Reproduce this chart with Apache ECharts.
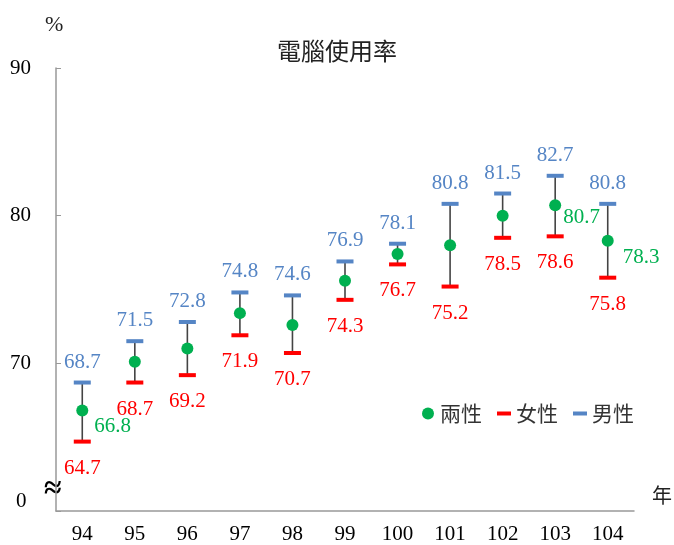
<!DOCTYPE html>
<html>
<head>
<meta charset="utf-8">
<script src="https://cdn.jsdelivr.net/npm/echarts@6/dist/echarts.min.js"></script>
<style>
  html, body { margin: 0; padding: 0; background: #fff; }
  #main { width: 674px; height: 545px; }
</style>
</head>
<body>
<div id="main"></div>
<script>
// 年度
var years = ['94', '95', '96', '97', '98', '99', '100', '101', '102', '103', '104'];
// 兩性
var both = [66.8, 70.1, 71.0, 73.4, 72.6, 75.6, 77.4, 78.0, 80.0, 80.7, 78.3];
// 女性
var female = [64.7, 68.7, 69.2, 71.9, 70.7, 74.3, 76.7, 75.2, 78.5, 78.6, 75.8];
// 男性
var male = [68.7, 71.5, 72.8, 74.8, 74.6, 76.9, 78.1, 80.8, 81.5, 82.7, 80.8];

var serif = '"Liberation Serif", "DejaVu Serif", serif';
var cjk = '"Noto Sans CJK TC", "Noto Sans CJK SC", sans-serif';
var blue = '#5585C5';
var red = '#FF0000';
var green = '#00B050';
var dash = 'path://M0,0 L14,0 L14,4 L0,4 Z';

// 只有部分兩性數值有標籤
var bothLabelOffsets = { 0: [6, 16], 9: [2, 12], 10: [9, 17] };

var myChart = echarts.init(document.getElementById('main'));

myChart.setOption({
    animation: false,
    title: {
        text: '電腦使用率',
        left: 'center',
        top: 34,
        textStyle: { fontFamily: cjk, fontSize: 24, fontWeight: 'normal', color: '#222' }
    },
    legend: {
        left: 417,
        top: 398,
        itemGap: 15,
        itemWidth: 14,
        itemHeight: 12,
        textStyle: { fontFamily: cjk, fontSize: 21, color: '#333' },
        data: [
            { name: '兩性', icon: 'circle' },
            { name: '女性', icon: dash, itemStyle: { color: red } },
            { name: '男性', icon: dash, itemStyle: { color: blue } }
        ]
    },
    grid: { left: 56, right: 40, top: 68, bottom: 33 },
    xAxis: {
        type: 'category',
        data: years,
        boundaryGap: true,
        axisLine: { lineStyle: { color: '#999', width: 1.5 } },
        axisTick: { inside: true, length: 6, lineStyle: { color: '#999' } },
        axisLabel: { fontFamily: serif, fontSize: 21, color: '#000', margin: 13 }
    },
    yAxis: {
        type: 'value',
        min: 60,
        max: 90,
        interval: 10,
        splitLine: { show: false },
        axisLine: { show: true, lineStyle: { color: '#999', width: 1.5 } },
        axisTick: { show: true, inside: true, length: 5, lineStyle: { color: '#999' } },
        axisLabel: {
            fontFamily: serif, fontSize: 21, color: '#000', margin: 25,
            formatter: function (v) { return v === 60 ? '' : String(v); }
        }
    },
    graphic: [
        { type: 'text', left: 45, top: 14, style: { text: '%', fontFamily: serif, fontSize: 22, fill: '#222' } },
        { type: 'text', left: 16, top: 491, style: { text: '0', fontFamily: serif, fontSize: 21, fill: '#000' } },
        { type: 'text', left: 652, top: 485, style: { text: '年', fontFamily: cjk, fontSize: 20, fill: '#222' } },
        { type: 'text', left: 44, top: 474, style: { text: '≈', fontFamily: serif, fontSize: 32, fontWeight: 'bold', fill: '#000' } }
    ],
    series: [
        {
            name: 'range',
            type: 'custom',
            z: 1,
            renderItem: function (params, api) {
                var lo = api.coord([api.value(0), api.value(1)]);
                var hi = api.coord([api.value(0), api.value(2)]);
                return {
                    type: 'line',
                    shape: { x1: lo[0], y1: lo[1], x2: hi[0], y2: hi[1] },
                    style: { stroke: '#444', lineWidth: 1.6 }
                };
            },
            data: years.map(function (y, i) { return [i, female[i], male[i]]; })
        },
        {
            name: '女性',
            type: 'scatter',
            symbol: 'rect',
            symbolSize: [17, 4],
            z: 2,
            itemStyle: { color: red, opacity: 1 },
            label: {
                show: true, position: 'bottom', distance: 14,
                fontFamily: serif, fontSize: 21, color: red
            },
            data: female
        },
        {
            name: '男性',
            type: 'scatter',
            symbol: 'rect',
            symbolSize: [17, 4],
            z: 2,
            itemStyle: { color: blue, opacity: 1 },
            label: {
                show: true, position: 'top', distance: 8,
                fontFamily: serif, fontSize: 21, color: blue
            },
            data: male
        },
        {
            name: '兩性',
            type: 'scatter',
            symbol: 'circle',
            symbolSize: 12,
            z: 3,
            itemStyle: { color: green, opacity: 1 },
            data: both.map(function (v, i) {
                var off = bothLabelOffsets[i];
                if (!off) return v;
                return {
                    value: v,
                    label: {
                        show: true, position: 'right', distance: off[0], offset: [0, off[1]],
                        fontFamily: serif, fontSize: 21, color: green
                    }
                };
            })
        }
    ]
});
</script>
</body>
</html>
